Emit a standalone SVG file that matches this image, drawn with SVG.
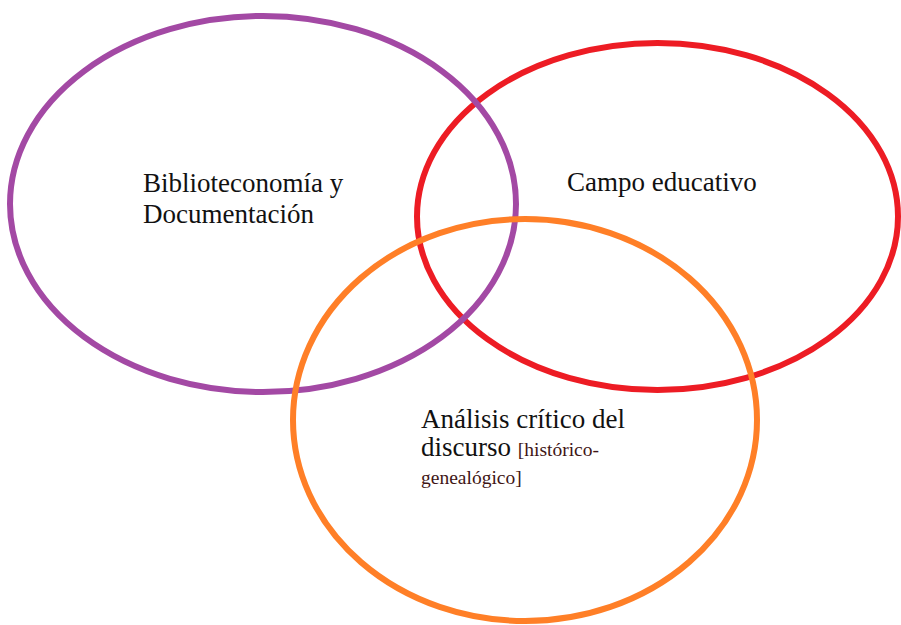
<svg xmlns="http://www.w3.org/2000/svg" width="901" height="625" viewBox="0 0 901 625">
<style>
.ring{fill:none;stroke-width:6}
.t{font-family:'Liberation Serif','Times New Roman','DejaVu Serif',serif;font-size:27px;fill:#111}
.s{font-size:19.5px;fill:#3f1616}
</style>
<rect width="901" height="625" fill="#fff"/>
<g id="campo-educativo">
<ellipse class="ring" cx="657.5" cy="216.5" rx="240.5" ry="173.5" stroke="#ED1C24"/>
<text class="t" x="567" y="191">Campo educativo</text>
</g>
<g id="biblioteconomia">
<ellipse class="ring" cx="263" cy="204" rx="253" ry="188" stroke="#A349A4"/>
<text class="t" x="143" y="192">Biblioteconomía y</text>
<text class="t" x="143" y="223">Documentación</text>
</g>
<g id="analisis">
<ellipse class="ring" cx="525" cy="420" rx="232" ry="201" stroke="#FF7F27"/>
<text class="t" x="421" y="428">Análisis crítico del</text>
<text class="t" x="421" y="456">discurso <tspan class="s">[histórico-</tspan></text>
<text class="t s" x="421" y="484">genealógico]</text>
</g>
<g id="connectors"></g>
</svg>
